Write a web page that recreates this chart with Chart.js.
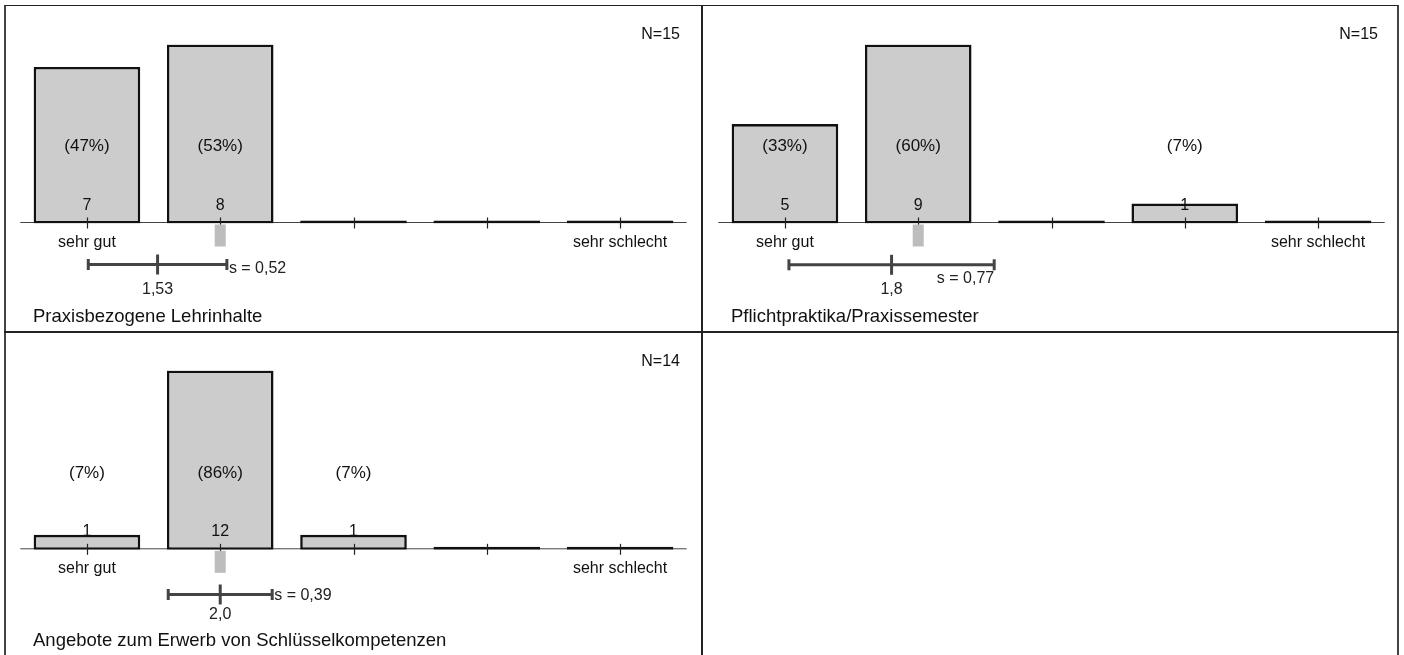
<!DOCTYPE html>
<html>
<head>
<meta charset="utf-8">
<script src="https://cdn.jsdelivr.net/npm/chart.js@4.4.1/dist/chart.umd.min.js"></script>
<style>
  body { margin: 0; background: #fff; width: 1404px; height: 655px; overflow: hidden; position: relative;
         font-family: "Liberation Sans", Arial, sans-serif; color: #111; }
  .frame { position: absolute; left: 4px; top: 5px; width: 1391px; height: 700px;
           border-left: 2px solid #444; border-right: 2px solid #444; border-top: 1px solid #222; }
  .vdiv { position: absolute; left: 701px; top: 5px; width: 2px; height: 700px; background: #222; }
  .hdiv { position: absolute; left: 4px; top: 331px; width: 1395px; height: 2px; background: #222; }
  canvas { position: absolute; }
  .title { position: absolute; font-size: 18.5px; line-height: 18.5px; white-space: nowrap; }
  .nlabel { position: absolute; font-size: 16px; line-height: 16px; width: 200px; text-align: right; }
</style>
</head>
<body>
<div class="frame"></div>
<div class="vdiv"></div>
<div class="hdiv"></div>

<script>
// Antwortkategorien (1 = sehr gut ... 5 = sehr schlecht)
const categories = ["1", "2", "3", "4", "5"];
const endLabels = ["sehr gut", "", "", "", "sehr schlecht"];

const titles = [
  "Praxisbezogene Lehrinhalte",
  "Pflichtpraktika/Praxissemester",
  "Angebote zum Erwerb von Schlüsselkompetenzen"
];
const nCounts = [15, 15, 14];

const countsLehrinhalte = [7, 8, 0, 0, 0];
const percentLehrinhalte = ["(47%)", "(53%)", "", "", ""];

const countsPraktika = [5, 9, 0, 1, 0];
const percentPraktika = ["(33%)", "(60%)", "", "(7%)", ""];

const countsKompetenzen = [1, 12, 1, 0, 0];
const percentKompetenzen = ["(7%)", "(86%)", "(7%)", "", ""];

const means = [1.53, 1.8, 2.0];
const meanLabels = ["1,53", "1,8", "2,0"];
const sds = [0.52, 0.77, 0.39];
const sdLabels = ["s = 0,52", "s = 0,77", "s = 0,39"];
const medians = [2, 2, 2];

const allCounts = [countsLehrinhalte, countsPraktika, countsKompetenzen];
const allPercents = [percentLehrinhalte, percentPraktika, percentKompetenzen];

// Lage der Panels auf der Seite
const panels = [
  { canvas: { left: 6, top: 7, w: 695, h: 324 }, area: { left: 20.3, right: 686.7, top: 44.5, bottom: 223.5 },
    meanDy: 41, meanLabelDy: 70, sMode: "right", sDy: 8, titleLeft: 33, titleBase: 322.7, nRight: 680, nBase: 40 },
  { canvas: { left: 704, top: 7, w: 693, h: 324 }, area: { left: 718.3, right: 1384.7, top: 44.5, bottom: 223.5 },
    meanDy: 41.3, meanLabelDy: 70, sMode: "below", sDy: 18, titleLeft: 731, titleBase: 322.7, nRight: 1378, nBase: 40 },
  { canvas: { left: 6, top: 334, w: 695, h: 321 }, area: { left: 20.3, right: 686.7, top: 370.5, bottom: 549.8 },
    meanDy: 44.7, meanLabelDy: 69.5, sMode: "right", sDy: 5.5, titleLeft: 33, titleBase: 647, nRight: 680, nBase: 367 }
];

const FONT = '"Liberation Sans", Arial, sans-serif';

function line(ctx, x1, y1, x2, y2) {
  ctx.beginPath();
  ctx.moveTo(x1, y1);
  ctx.lineTo(x2, y2);
  ctx.stroke();
}

const axisPlugin = {
  id: "axisline",
  beforeDatasetsDraw(chart) {
    const { ctx, chartArea: a } = chart;
    ctx.save();
    ctx.strokeStyle = "#444";
    ctx.lineWidth = 1;
    line(ctx, a.left, a.bottom - 1, a.right, a.bottom - 1);
    ctx.restore();
  }
};

const extrasPlugin = {
  id: "extras",
  afterDatasetsDraw(chart, args, o) {
    const { ctx, chartArea: a, scales: { x } } = chart;
    const base = a.bottom;
    ctx.save();

    // Striche auf der Achse
    ctx.strokeStyle = "#222";
    ctx.lineWidth = 1.2;
    categories.forEach((c, i) => {
      const px = Math.round(x.getPixelForValue(i)) + 0.5;
      line(ctx, px, base - 6, px, base + 5);
    });

    ctx.fillStyle = "#111";
    ctx.textAlign = "center";
    ctx.textBaseline = "alphabetic";

    // Anzahl + Prozent
    o.counts.forEach((v, i) => {
      if (!v) return;
      const px = x.getPixelForValue(i);
      ctx.font = "16px " + FONT;
      ctx.fillText(String(v), px, base - 13.7);
      ctx.font = "17px " + FONT;
      ctx.fillText(o.percents[i], px, base - 72.3);
    });

    // Endbeschriftungen
    ctx.font = "16px " + FONT;
    endLabels.forEach((t, i) => {
      if (t) ctx.fillText(t, x.getPixelForValue(i), base + 23);
    });

    // Median
    const md = x.getPixelForValue(o.median - 1);
    ctx.fillStyle = "#bdbdbd";
    ctx.fillRect(md - 5.5, base + 1, 11, 22);

    // Mittelwert und Standardabweichung
    const my = base + o.layout.meanDy;
    const m = x.getPixelForValue(o.mean - 1);
    const lo = x.getPixelForValue(o.mean - 1 - o.sd);
    const hi = x.getPixelForValue(o.mean - 1 + o.sd);
    ctx.strokeStyle = "#444";
    ctx.lineWidth = 3;
    line(ctx, lo, my, hi, my);
    line(ctx, lo, my - 5.5, lo, my + 5.5);
    line(ctx, hi, my - 5.5, hi, my + 5.5);
    line(ctx, m, my - 10, m, my + 10);

    ctx.fillStyle = "#222";
    ctx.font = "16px " + FONT;
    ctx.textAlign = "center";
    ctx.fillText(o.meanLabel, m, base + o.layout.meanLabelDy);

    ctx.font = "16px " + FONT;
    if (o.layout.sMode === "right") {
      ctx.textAlign = "left";
      ctx.fillText(o.sdLabel, hi + 2, my + o.layout.sDy);
    } else {
      ctx.textAlign = "right";
      ctx.fillText(o.sdLabel, hi, my + o.layout.sDy);
    }
    ctx.restore();
  }
};

panels.forEach((p, k) => {
  const cv = document.createElement("canvas");
  cv.width = p.canvas.w;
  cv.height = p.canvas.h;
  cv.style.left = p.canvas.left + "px";
  cv.style.top = p.canvas.top + "px";
  cv.style.width = p.canvas.w + "px";
  cv.style.height = p.canvas.h + "px";
  document.body.appendChild(cv);

  const title = document.createElement("div");
  title.className = "title";
  title.textContent = titles[k];
  title.style.left = p.titleLeft + "px";
  title.style.top = (p.titleBase - 0.8465 * 18.5) + "px";
  document.body.appendChild(title);

  const n = document.createElement("div");
  n.className = "nlabel";
  n.textContent = "N=" + nCounts[k];
  n.style.left = (p.nRight - 200) + "px";
  n.style.top = (p.nBase - 0.8465 * 16) + "px";
  document.body.appendChild(n);

  const counts = allCounts[k];

  new Chart(cv.getContext("2d"), {
    type: "bar",
    data: {
      labels: categories,
      datasets: [{
        data: counts,
        backgroundColor: "#cccccc",
        borderColor: "#111",
        borderWidth: 2.6,
        borderSkipped: false,
        barPercentage: 0.8,
        categoryPercentage: 1.0,
        minBarLength: 3
      }]
    },
    options: {
      responsive: false,
      devicePixelRatio: 1,
      animation: false,
      layout: {
        padding: {
          left: p.area.left - p.canvas.left,
          right: p.canvas.left + p.canvas.w - p.area.right,
          top: p.area.top - p.canvas.top,
          bottom: p.canvas.top + p.canvas.h - p.area.bottom
        }
      },
      scales: {
        x: { display: false, offset: true },
        y: { display: false, min: 0, max: Math.max(...counts) }
      },
      plugins: {
        legend: { display: false },
        tooltip: { enabled: false },
        extras: {
          counts: counts,
          percents: allPercents[k],
          mean: means[k],
          meanLabel: meanLabels[k],
          sd: sds[k],
          sdLabel: sdLabels[k],
          median: medians[k],
          layout: p
        }
      }
    },
    plugins: [axisPlugin, extrasPlugin]
  });
});
</script>
</body>
</html>
